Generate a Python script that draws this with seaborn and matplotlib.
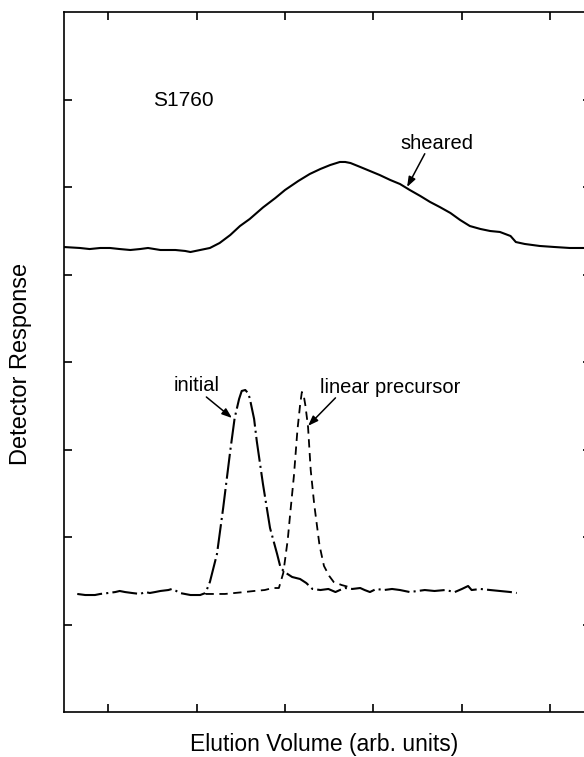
import matplotlib
matplotlib.use("Agg")
import matplotlib.pyplot as plt
import seaborn as sns
import pandas as pd

# Sheared sample trace (solid)
sheared_x = [0.00, 0.18, 0.29, 0.41, 0.52, 0.63, 0.75, 0.86, 0.95, 1.09, 1.26, 1.37,
             1.43, 1.54, 1.65, 1.76, 1.88, 1.99, 2.10, 2.25, 2.39, 2.50, 2.65, 2.78,
             2.90, 3.01, 3.12, 3.18, 3.24, 3.35, 3.46, 3.57, 3.69, 3.80, 3.91, 4.03,
             4.14, 4.25, 4.37, 4.48, 4.59, 4.71, 4.82, 4.93, 5.05, 5.11, 5.21, 5.38,
             5.55, 5.72, 5.88, 5.96]
sheared_y = [5.314, 5.303, 5.291, 5.303, 5.303, 5.291, 5.280, 5.291, 5.303, 5.280, 5.280, 5.269,
             5.257, 5.280, 5.303, 5.360, 5.451, 5.554, 5.634, 5.766, 5.874, 5.966, 6.069, 6.149,
             6.206, 6.251, 6.286, 6.286, 6.274, 6.229, 6.183, 6.137, 6.080, 6.034, 5.966, 5.897,
             5.829, 5.771, 5.703, 5.623, 5.554, 5.520, 5.497, 5.486, 5.440, 5.371, 5.349, 5.326,
             5.314, 5.303, 5.303, 5.303]

# Initial sample trace (dash-dot)
initial_x = [0.15, 0.24, 0.35, 0.41, 0.50, 0.58, 0.63, 0.69, 0.77, 0.86, 0.92, 0.97,
             1.03, 1.09, 1.18, 1.22, 1.27, 1.31, 1.43, 1.54, 1.60, 1.65, 1.73, 1.80,
             1.88, 1.93, 1.98, 2.01, 2.05, 2.08, 2.10, 2.15, 2.18, 2.25, 2.33, 2.41,
             2.45, 2.51, 2.58, 2.67, 2.74, 2.81, 2.90, 2.99, 3.07, 3.12, 3.18, 3.26,
             3.35, 3.40, 3.46, 3.53, 3.62, 3.71, 3.80, 3.91, 4.00, 4.08, 4.19, 4.31,
             4.42, 4.50, 4.57, 4.61, 4.71, 4.82, 4.93, 5.05, 5.12]
initial_y = [1.349, 1.337, 1.337, 1.349, 1.360, 1.371, 1.383, 1.371, 1.360, 1.349, 1.371, 1.360,
             1.371, 1.383, 1.394, 1.406, 1.383, 1.360, 1.337, 1.337, 1.360, 1.486, 1.806, 2.331,
             2.983, 3.360, 3.577, 3.669, 3.680, 3.646, 3.589, 3.349, 3.097, 2.606, 2.103, 1.806,
             1.646, 1.589, 1.543, 1.520, 1.474, 1.406, 1.394, 1.406, 1.371, 1.394, 1.417, 1.406,
             1.417, 1.394, 1.371, 1.406, 1.394, 1.406, 1.394, 1.371, 1.383, 1.394, 1.383, 1.394,
             1.371, 1.406, 1.440, 1.394, 1.406, 1.394, 1.383, 1.371, 1.360]

# Linear precursor trace (dashed)
linear_x = [1.60, 1.71, 1.82, 1.93, 2.04, 2.15, 2.27, 2.36, 2.43, 2.48, 2.53, 2.56,
            2.60, 2.64, 2.67, 2.69, 2.71, 2.73, 2.76, 2.79, 2.83, 2.89, 2.94, 3.00,
            3.05, 3.14, 3.22]
linear_y = [1.349, 1.349, 1.349, 1.360, 1.371, 1.383, 1.394, 1.417, 1.417, 1.589, 1.966, 2.286,
            2.697, 3.223, 3.509, 3.657, 3.623, 3.503, 3.257, 2.766, 2.371, 1.903, 1.669, 1.554,
            1.486, 1.451, 1.429]

XLIM = (0, 5.96)
YLIM = (0, 8)
XTICKS = [0.5, 1.5, 2.5, 3.5, 4.5, 5.5]
YTICKS = [1, 2, 3, 4, 5, 6, 7]

sns.set_style("ticks")
plt.rcParams["font.family"] = ["Liberation Sans", "DejaVu Sans"]
plt.rcParams["lines.scale_dashes"] = False
plt.rcParams["text.color"] = "black"
plt.rcParams["axes.labelcolor"] = "black"

fig = plt.figure(figsize=(5.84, 7.57), dpi=100)
ax = fig.add_axes([64 / 584, 45 / 757, 527 / 584, 700 / 757])

df_sh = pd.DataFrame({"x": sheared_x, "y": sheared_y})
df_in = pd.DataFrame({"x": initial_x, "y": initial_y})
df_li = pd.DataFrame({"x": linear_x, "y": linear_y})

sns.lineplot(data=df_sh, x="x", y="y", ax=ax, color="black", lw=1.5,
             estimator=None, sort=False)
sns.lineplot(data=df_in, x="x", y="y", ax=ax, color="black", lw=1.5,
             estimator=None, sort=False)
ax.lines[-1].set_dashes([18, 3, 1.5, 3])
sns.lineplot(data=df_li, x="x", y="y", ax=ax, color="black", lw=1.3,
             estimator=None, sort=False)
ax.lines[-1].set_dashes([6, 4])

ax.set_xlim(*XLIM)
ax.set_ylim(*YLIM)
ax.set_xticks(XTICKS)
ax.set_yticks(YTICKS)
ax.set_xticklabels([])
ax.set_yticklabels([])
ax.tick_params(direction="in", length=6, width=1.2, top=True, right=True,
               color="black")
for sp in ax.spines.values():
    sp.set_visible(True)
    sp.set_linewidth(1.2)
    sp.set_color("black")

ax.set_xlabel("Elution Volume (arb. units)", fontsize=16.5, color="black")
ax.set_ylabel("Detector Response", fontsize=17, color="black")
ax.xaxis.set_label_coords((324 - 64) / 527, -0.03)
ax.yaxis.set_label_coords(-0.06, (712 - 364) / 700)

ax.text(1.35, 6.99, "S1760", fontsize=15, ha="center", va="center")
ax.text(4.22, 6.50, "sheared", fontsize=14.5, ha="center", va="center")
ax.text(1.50, 3.73, "initial", fontsize=14.5, ha="center", va="center")
ax.text(3.69, 3.71, "linear precursor", fontsize=14.5, ha="center", va="center")

arrow = dict(arrowstyle="-|>,head_length=0.6,head_width=0.22", color="black",
             lw=1.1, shrinkA=0, shrinkB=0)
ax.annotate("", xy=(3.88, 6.00), xytext=(4.08, 6.38), arrowprops=arrow)
ax.annotate("", xy=(1.90, 3.36), xytext=(1.61, 3.60), arrowprops=arrow)
ax.annotate("", xy=(2.76, 3.27), xytext=(3.07, 3.59), arrowprops=arrow)

fig.savefig("out.png", dpi=100)
